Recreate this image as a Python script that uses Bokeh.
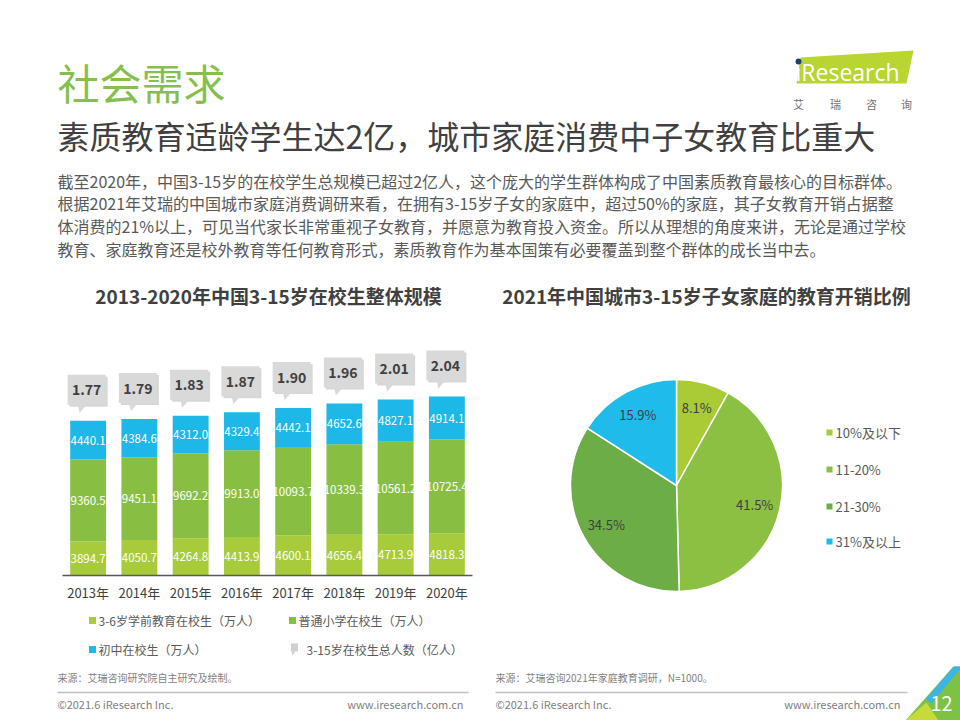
import math
from bokeh.plotting import figure
from bokeh.models import Range1d, FixedTicker, ColumnDataSource
from bokeh.layouts import column, row
from bokeh.embed import file_html
from bokeh.resources import INLINE
from bokeh.core.properties import value

F = "Noto Sans CJK SC"

# ---------------- data ----------------
years = ["2013年", "2014年", "2015年", "2016年", "2017年", "2018年", "2019年", "2020年"]
preschool = [3894.7, 4050.7, 4264.8, 4413.9, 4600.1, 4656.4, 4713.9, 4818.3]
primary = [9360.5, 9451.1, 9692.2, 9913.0, 10093.7, 10339.3, 10561.2, 10725.4]
junior = [4440.1, 4384.6, 4312.0, 4329.4, 4442.1, 4652.6, 4827.1, 4914.1]
totals_yi = [1.77, 1.79, 1.83, 1.87, 1.90, 1.96, 2.01, 2.04]
bar_series = ["3-6岁学前教育在校生（万人）", "普通小学在校生（万人）", "初中在校生（万人）", "3-15岁在校生总人数（亿人）"]

pie_labels = ["10%及以下", "11-20%", "21-30%", "31%及以上"]
pie_values = [8.1, 41.5, 34.5, 15.9]

C_PRE, C_PRI, C_JUN = "#A7CB3A", "#88BF42", "#1DB7E8"
PIE_COLORS = ["#A9CB36", "#8CC043", "#6CAE45", "#1FBBEB"]
DARK = "#404040"
GRAY = "#595959"


def canvas(w, h, flip=True, xr=None):
    p = figure(width=w, height=h, x_range=xr if xr is not None else Range1d(0, w),
               y_range=Range1d(h, 0) if flip else Range1d(0, h),
               x_axis_location=None, y_axis_location=None, toolbar_location=None,
               output_backend="svg", min_border=0, outline_line_color=None)
    p.xgrid.grid_line_color = None
    p.ygrid.grid_line_color = None
    p.background_fill_color = "white"
    p.border_fill_color = "white"
    return p


def txt(p, x, y, s, size, color, align="left", bold=False, font=F, baseline="middle", **kw):
    p.text(x=[x], y=[y], text=[s], text_font=value(font), text_font_size=f"{size}px",
           text_color=color, text_align=align, text_baseline=baseline,
           text_font_style="bold" if bold else "normal", **kw)


# ---------------- header (slide y 0..340) ----------------
header = canvas(960, 340)
txt(header, 57, 81, "社会需求", 42, "#86BF4E")
txt(header, 57, 134, "素质教育适龄学生达2亿，城市家庭消费中子女教育比重大", 32, DARK)
para = [
    "截至2020年，中国3-15岁的在校学生总规模已超过2亿人，这个庞大的学生群体构成了中国素质教育最核心的目标群体。",
    "根据2021年艾瑞的中国城市家庭消费调研来看，在拥有3-15岁子女的家庭中，超过50%的家庭，其子女教育开销占据整",
    "体消费的21%以上，可见当代家长非常重视子女教育，并愿意为教育投入资金。所以从理想的角度来讲，无论是通过学校",
    "教育、家庭教育还是校外教育等任何教育形式，素质教育作为基本国策有必要覆盖到整个群体的成长当中去。",
]
for i, line in enumerate(para):
    txt(header, 57, 180 + i * 22.7, line, 16, GRAY)
txt(header, 268, 295, "2013-2020年中国3-15岁在校生整体规模", 19, DARK, align="center", bold=True)
txt(header, 706, 295, "2021年中国城市3-15岁子女家庭的教育开销比例", 19, DARK, align="center", bold=True)

# logo
header.patch(x=[800, 913, 906, 796], y=[57, 50, 83, 83], fill_color="#B9D531", line_color=None)
txt(header, 795, 71, "ıResearch", 23, "white", font="Open Sans")
header.scatter(x=[798], y=[61], size=6, marker="circle", fill_color="#1C3F6E", line_color=None)
for cx, ch in zip([798, 835, 871, 906], ["艾", "瑞", "咨", "询"]):
    txt(header, cx, 103, ch, 11, "#707070", align="center")

# ---------------- bar chart (slide x 0..480, y 340..610) ----------------
N = len(years)
xs = list(range(1, N + 1))
YMAX = 26860
FRAME_H = 235
FRAME_W = 410
u = YMAX / FRAME_H
ux = N / FRAME_W

bar = figure(width=480, height=270, x_range=Range1d(0.5, N + 0.5), y_range=Range1d(0, YMAX),
             y_axis_location=None, toolbar_location=None, output_backend="svg",
             min_border_left=62, min_border_right=8, min_border_top=0, min_border_bottom=35,
             outline_line_color=None)
bar.xgrid.grid_line_color = None
bar.ygrid.grid_line_color = None

src = ColumnDataSource(dict(x=xs, pre=preschool, pri=primary, jun=junior))
bar.vbar_stack(["pre", "pri", "jun"], x="x", width=0.70, fill_color=[C_PRE, C_PRI, C_JUN],
               line_color=None, source=src)

mid_pre = [a / 2 for a in preschool]
mid_pri = [a + b / 2 for a, b in zip(preschool, primary)]
mid_jun = [a + b + c / 2 for a, b, c in zip(preschool, primary, junior)]
for mids, vals in [(mid_pre, preschool), (mid_pri, primary), (mid_jun, junior)]:
    bar.text(x=xs, y=mids, text=[f"{v:.1f}" for v in vals], text_font=value(F),
             text_font_size="11.5px", text_color="white", text_align="center", text_baseline="middle")

totals = [a + b + c for a, b, c in zip(preschool, primary, junior)]
box_cx = [x - 1.5 * ux for x in xs]
box_cy = [t + 31 * u for t in totals]
bar.rect(x=[c + 2 * ux for c in box_cx], y=[c - 2 * u for c in box_cy], width=38, height=30,
         width_units="screen", height_units="screen", fill_color="#BDBDBD", fill_alpha=0.6, line_color=None)
bar.rect(x=box_cx, y=box_cy, width=38, height=30, width_units="screen", height_units="screen",
         fill_color="#D9D9D9", line_color=None)
ptr_x, ptr_y = [], []
for cx, cy in zip(box_cx, box_cy):
    by = cy - 15 * u
    ptr_x.append([cx - 9 * ux, cx + 1 * ux, cx - 7 * ux])
    ptr_y.append([by + 1 * u, by + 1 * u, by - 8 * u])
bar.patches(xs=ptr_x, ys=ptr_y, fill_color="#D9D9D9", line_color=None)
bar.text(x=box_cx, y=box_cy, text=[f"{v:.2f}" for v in totals_yi], text_font=value(F),
         text_font_size="14px", text_font_style="bold", text_color=DARK,
         text_align="center", text_baseline="middle")

bar.xaxis.ticker = FixedTicker(ticks=xs)
bar.xaxis.major_label_overrides = {x: y for x, y in zip(xs, years)}
bar.xaxis.axis_line_color = GRAY
bar.xaxis.axis_line_width = 1.5
bar.xaxis.major_tick_line_color = None
bar.xaxis.minor_tick_line_color = None
bar.xaxis.major_tick_out = 0
bar.xaxis.major_tick_in = 0
bar.xaxis.major_label_standoff = 7
bar.xaxis.major_label_text_font = F
bar.xaxis.major_label_text_font_size = "13px"
bar.xaxis.major_label_text_color = DARK

# bar legend (slide y 610..666); frame aligned with bar frame -> data x == slide x
leg = figure(width=480, height=56, x_range=Range1d(62, 472), y_range=Range1d(56, 0),
             x_axis_location=None, y_axis_location=None, toolbar_location=None,
             output_backend="svg", min_border_left=62, min_border_right=8,
             min_border_top=0, min_border_bottom=0, outline_line_color=None)
leg.xgrid.grid_line_color = None
leg.ygrid.grid_line_color = None
leg.rect(x=[92, 292, 92], y=[10, 10, 39], width=7, height=7,
         fill_color=[C_PRE, C_PRI, C_JUN], line_color=None)
txt(leg, 98, 10, bar_series[0], 12, GRAY)
txt(leg, 298, 10, bar_series[1], 12, GRAY)
txt(leg, 98, 39, bar_series[2], 12, GRAY)
leg.rect(x=[294], y=[37], width=7, height=8, fill_color="#D0D0D0", line_color=None)
leg.patch(x=[291, 295, 292], y=[41, 41, 45], fill_color="#D0D0D0", line_color=None)
txt(leg, 306, 39, bar_series[3], 12, GRAY)

# ---------------- pie chart (slide x 480..960, y 340..666) ----------------
pie = canvas(480, 326, flip=False)
CX, CY, R = 196, 181, 106
cum = 0.0
starts, ends, lx, ly = [], [], [], []
total_pie = sum(pie_values)
for v in pie_values:
    a0 = math.pi / 2 - 2 * math.pi * (cum + v) / total_pie
    a1 = math.pi / 2 - 2 * math.pi * cum / total_pie
    starts.append(a0)
    ends.append(a1)
    m = (a0 + a1) / 2
    lx.append(CX + 0.76 * R * math.cos(m))
    ly.append(CY + 0.76 * R * math.sin(m))
    cum += v
pie.wedge(x=CX, y=CY, radius=R, start_angle=starts, end_angle=ends,
          fill_color=PIE_COLORS, line_color="white", line_width=1.5)
pie.text(x=lx, y=ly, text=[f"{v:.1f}%" for v in pie_values], text_font=value(F),
         text_font_size="13px", text_color=DARK, text_align="center", text_baseline="middle")
leg_y = [234, 197, 160, 125]
pie.rect(x=[349] * 4, y=leg_y, width=6, height=6, fill_color=PIE_COLORS, line_color=None)
pie.text(x=[355] * 4, y=leg_y, text=pie_labels, text_font=value(F), text_font_size="13px",
         text_color=GRAY, text_align="left", text_baseline="middle")

# ---------------- footer (slide y 666..720) ----------------
foot = canvas(960, 54)
txt(foot, 57, 11, "来源：艾瑞咨询研究院自主研究及绘制。", 10, "#7F7F7F")
txt(foot, 495, 11, "来源：艾瑞咨询2021年家庭教育调研，N=1000。", 10, "#7F7F7F")
foot.segment(x0=[57, 495], y0=[26, 26], x1=[468, 907], y1=[26, 26], line_color="#C0C0C0", line_width=1.5)
for x0, x1 in [(57, 463), (495, 900)]:
    txt(foot, x0, 37, "©2021.6 iResearch Inc.", 11, "#808080")
    txt(foot, x1, 37, "www.iresearch.com.cn", 11, "#808080", align="right")
# corner decoration
foot.patch(x=[905, 960, 960], y=[54, 54, -8], fill_color="#7DC243", line_color=None)
foot.patch(x=[905, 938, 926], y=[54, 54, 36], fill_color="#C6DB3A", line_color=None)
foot.patch(x=[925, 960, 960, 931], y=[33, -8, 2, 37], fill_color="#3DB4E6", line_color=None)
txt(foot, 941, 37, "12", 20, "white", align="center")

layout = column(header, row(column(bar, leg), pie), foot)
open("out.html", "w").write(file_html(layout, INLINE))
